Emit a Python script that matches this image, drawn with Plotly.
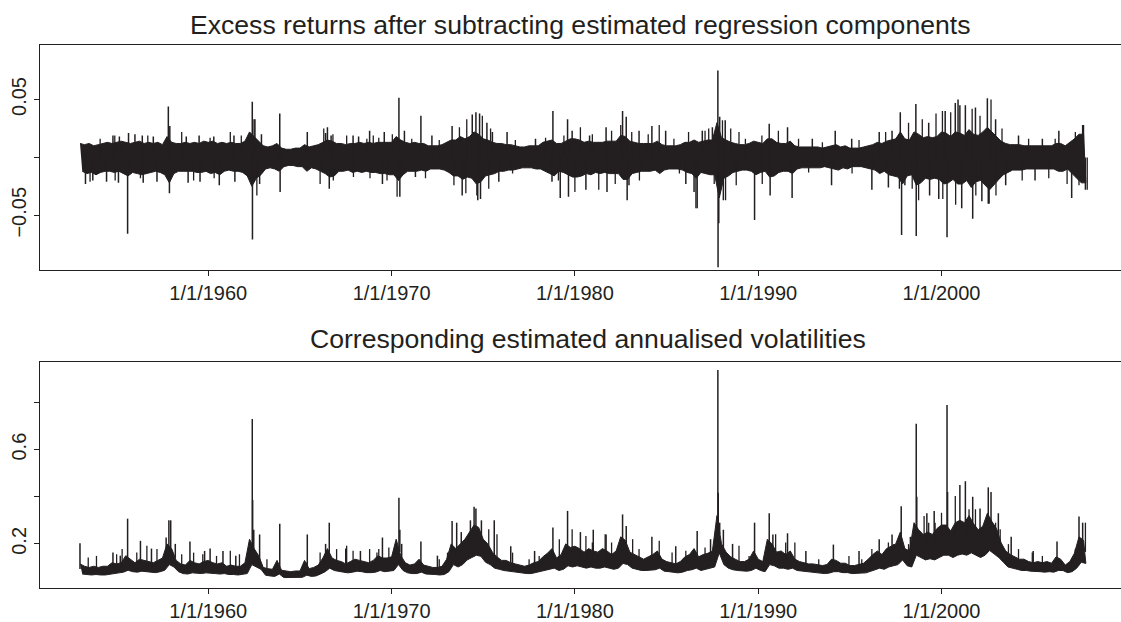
import numpy as np
import pandas as pd
import plotly.graph_objects as go
from plotly.subplots import make_subplots

# ---------------- data ----------------
START_YEAR = 1953.0          # first quarter shown
STEP = 0.25                  # quarterly envelope readings

# Excess returns: quarterly upper / lower extent of the dense band (x 0.001)
ret_hi = [
    12, 11, 12, 10,  11, 12, 13, 12,  13, 14, 13, 12,  13, 14, 12, 13,  12, 13, 11, 18,   # 1953-57
    13, 12, 12, 13,  12, 13, 12, 14,  13, 14, 12, 13,  12, 13, 12, 12,  14, 22, 18, 14,   # 1958-62
    10, 9, 10, 12,   8, 7, 7, 8,      8, 11, 9, 10,    11, 13, 15, 14,  12, 12, 11, 12,   # 1963-67
    12, 13, 12, 13,  12, 13, 13, 13,  13, 18, 15, 13,  12, 13, 12, 12,  10, 10, 10, 11,   # 1968-72
    13, 15, 15, 18,  16, 18, 22, 20,  16, 15, 13, 12,  12, 11, 11, 10,  9, 9, 10, 10,     # 1973-77
    10, 13, 14, 15,  12, 12, 14, 16,  16, 15, 13, 14,  13, 13, 13, 14,  14, 14, 19, 18,   # 1978-82
    14, 13, 12, 12,  12, 12, 14, 11,  10, 10, 10, 11,  13, 13, 15, 13,  14, 15, 15, 30,   # 1983-87
    17, 15, 13, 12,  11, 11, 12, 14,  13, 12, 16, 16,  13, 12, 12, 14,  10, 9, 9, 9,      # 1988-92
    9, 9, 8, 9,      10, 11, 9, 10,   8, 8, 8, 9,      10, 11, 13, 12,  14, 15, 16, 22,   # 1993-97
    16, 15, 22, 20,  17, 18, 17, 18,  22, 21, 18, 22,  21, 19, 24, 20,  19, 22, 26, 22,   # 1998-2002
    18, 14, 12, 11,  11, 11, 10, 10,  10, 10, 10, 10,  10, 12, 12, 10,  13, 16, 20, 20,   # 2003-07
]
ret_lo = [
    -12, -14, -13, -15,  -13, -12, -12, -13,  -12, -14, -16, -13,  -14, -15, -14, -13,  -12, -13, -15, -22,
    -14, -12, -12, -12,  -12, -13, -13, -12,  -14, -13, -15, -12,  -11, -12, -12, -13,  -16, -25, -18, -15,
    -10, -9, -10, -12,   -8, -7, -7, -8,      -8, -12, -9, -10,    -12, -14, -17, -16,  -12, -12, -11, -13,
    -12, -13, -12, -13,  -13, -14, -14, -15,  -15, -20, -15, -12,  -12, -12, -11, -12,  -10, -10, -10, -11,
    -13, -16, -16, -19,  -17, -18, -23, -21,  -16, -15, -14, -12,  -12, -11, -11, -10,  -9, -9, -9, -10,
    -10, -12, -14, -16,  -12, -13, -15, -17,  -17, -16, -14, -15,  -13, -14, -13, -14,  -14, -14, -19, -19,
    -14, -13, -12, -12,  -12, -11, -14, -11,  -10, -10, -10, -11,  -13, -14, -18, -13,  -14, -15, -15, -35,
    -18, -16, -13, -12,  -11, -11, -12, -15,  -13, -12, -17, -16,  -13, -12, -12, -14,  -10, -9, -9, -9,
    -9, -9, -8, -9,      -10, -11, -9, -10,   -8, -8, -8, -9,      -10, -11, -14, -12,  -15, -16, -17, -23,
    -16, -15, -24, -22,  -18, -19, -18, -19,  -23, -22, -19, -23,  -23, -20, -26, -21,  -20, -24, -28, -24,
    -19, -15, -13, -11,  -11, -11, -10, -10,  -10, -10, -10, -10,  -10, -12, -12, -10,  -14, -18, -22, -22,
]
# isolated daily spikes in the returns: (year, value)
ret_spike_t = [
    1953.3, 1953.7, 1954.45, 1954.8, 1955.1, 1955.15, 1955.6, 1955.65, 1956.0, 1956.4,
    1956.45, 1957.0, 1957.2, 1957.82, 1957.88, 1957.9, 1958.8, 1958.9, 1959.5, 1959.55,
    1960.3, 1960.6, 1961.4, 1961.45, 1962.40, 1962.41, 1962.5, 1962.8, 1962.9, 1963.9,
    1963.92, 1965.4, 1966.4, 1966.5, 1966.6, 1966.7, 1967.9, 1968.2, 1968.8, 1969.5,
    1969.6, 1970.4, 1970.45, 1970.7, 1971.3, 1971.6, 1972.2, 1973.3, 1973.85, 1974.4,
    1974.6, 1974.7, 1974.8, 1974.85, 1975.2, 1975.5, 1975.85, 1976.3, 1977.85, 1978.75,
    1978.8, 1979.2, 1979.6, 1979.65, 1979.85, 1980.6, 1980.8, 1981.7, 1981.75, 1982.6,
    1982.8, 1982.85, 1982.95, 1983.5, 1984.2, 1984.95, 1986.05, 1986.5, 1986.67, 1986.95,
    1987.5, 1987.8, 1987.81, 1987.85, 1987.9, 1988.1, 1988.2, 1989.8, 1990.6, 1990.65,
    1991.6, 1991.85, 1992.95, 1994.0, 1994.2, 1995.1, 1996.2, 1996.6, 1997.1, 1997.3,
    1997.75, 1997.82, 1998.0, 1998.6, 1998.62, 1999.3, 1999.35, 1999.85, 2000.2, 2000.3,
    2000.75, 2000.9, 2001.0, 2001.1, 2001.3, 2001.7, 2001.85, 2002.2, 2002.5, 2002.55,
    2002.95, 2003.5, 2004.2, 2005.1, 2005.5, 2006.4, 2007.1, 2007.7, 2007.85,
]
ret_spike_v = [
    -0.023, -0.020, -0.021, 0.019, -0.022, 0.018, -0.066, 0.021, 0.020, 0.019,
    -0.022, 0.018, -0.021, 0.044, -0.031, 0.027, 0.018, -0.022, 0.019, -0.021,
    0.018, -0.024, 0.019, -0.021, 0.048, -0.071, 0.033, -0.023, 0.020, 0.038,
    -0.030, 0.022, 0.021, 0.026, -0.027, 0.019, 0.019, 0.018, 0.023, -0.023,
    0.022, 0.0515, -0.034, 0.023, -0.017, 0.036, 0.019, 0.027, -0.033, 0.037,
    0.039, -0.037, 0.038, -0.036, 0.030, 0.022, -0.021, 0.022, 0.016, -0.021,
    0.040, -0.035, 0.033, -0.034, 0.023, -0.028, 0.019, 0.026, -0.030, 0.040,
    0.035, -0.037, -0.024, 0.023, 0.027, 0.023, -0.023, -0.030, -0.044, 0.023,
    0.026, 0.075, -0.095, -0.057, 0.035, -0.037, 0.032, -0.054, 0.029, -0.033,
    0.026, -0.035, 0.016, -0.024, 0.023, 0.016, -0.028, 0.022, -0.026, 0.023,
    0.039, -0.067, -0.024, 0.046, -0.068, 0.030, -0.033, -0.036, 0.040, -0.069,
    0.047, 0.050, 0.045, -0.044, 0.045, -0.053, 0.043, -0.038, 0.051, -0.040,
    0.033, -0.024, 0.019, -0.020, 0.016, 0.023, -0.035, 0.028, -0.028,
]
# smaller daily excursions along the fringe of the band: (year, value)
ret_fringe_t = [
    1953.55, 1954.1, 1954.9, 1954.92, 1956.3, 1956.7, 1958.55, 1959.2, 1960.1, 1960.32,
    1961.2, 1961.8, 1962.55, 1962.65, 1966.1, 1966.3, 1966.8, 1966.82, 1967.55, 1967.92,
    1968.65, 1968.82, 1969.0, 1969.3, 1969.75, 1970.04, 1970.3, 1971.1, 1971.85, 1972.6,
    1973.4, 1973.7, 1974.05, 1974.1, 1974.65, 1974.95, 1975.3, 1975.4, 1976.6, 1976.75,
    1978.4, 1979.1, 1979.4, 1980.0, 1980.3, 1980.95, 1981.3, 1982.0, 1982.2, 1982.5,
    1983.1, 1983.52, 1984.0, 1984.6, 1985.4, 1985.7, 1986.2, 1986.6, 1987.1, 1987.3,
    1987.6, 1988.05, 1988.22, 1988.5, 1988.8, 1988.95, 1989.3, 1990.2, 1990.22, 1991.1,
    1992.2, 1992.75, 1993.5, 1995.12, 1995.5, 1996.95, 1997.7, 1998.2, 1998.4, 1998.75,
    1998.95, 1999.7, 2000.05, 2000.07, 2000.5, 2000.77, 2001.67, 2001.87, 2002.1, 2002.6,
    2002.7, 2002.97, 2003.3, 2004.4, 2004.75, 2005.85, 2006.2, 2006.85, 2007.3, 2007.5,
    2007.75, 2007.95,
]
ret_fringe_v = [
    -0.021, 0.016, 0.019, -0.020, -0.018, 0.019, 0.022, -0.020, 0.017, -0.018,
    0.022, 0.019, 0.033, -0.033, -0.023, 0.025, 0.020, -0.020, 0.019, -0.017,
    0.016, -0.018, 0.019, 0.017, -0.020, 0.020, -0.034, 0.016, -0.018, 0.015,
    -0.024, 0.026, -0.031, 0.033, -0.033, 0.036, -0.027, 0.025, -0.014, 0.015,
    0.017, -0.020, 0.019, -0.030, 0.026, 0.020, -0.028, 0.023, -0.023, 0.028,
    0.022, -0.020, 0.020, 0.028, 0.016, -0.014, 0.022, -0.044, 0.023, 0.025,
    -0.023, 0.032, -0.037, 0.025, -0.024, 0.022, 0.016, 0.019, -0.023, 0.023,
    0.016, -0.013, 0.013, -0.014, 0.015, 0.022, -0.027, 0.030, -0.027, -0.037,
    0.033, 0.038, 0.040, -0.036, 0.039, -0.041, 0.042, -0.033, 0.036, -0.040,
    0.050, -0.033, 0.025, -0.020, 0.016, -0.018, 0.016, -0.023, 0.022, -0.024,
    0.028, -0.028,
]

# Volatilities: quarterly upper / lower extent of the dense noisy line (x 0.001)
vol_hi = [
    115, 105, 100, 105,  100, 105, 105, 120,  115, 120, 150, 135,  120, 135, 130, 125,  120, 130, 140, 200,
    180, 130, 115, 110,  130, 120, 115, 125,  130, 120, 115, 120,  105, 110, 105, 105,  120, 220, 180, 150,
    100, 95, 92, 130,    88, 85, 82, 85,      85, 130, 95, 100,    110, 140, 180, 140,  130, 125, 115, 125,
    135, 130, 125, 120,  130, 150, 140, 140,  145, 220, 150, 120,  110, 115, 135, 110,  105, 100, 100, 105,
    135, 200, 180, 200,  220, 250, 280, 270,  220, 200, 165, 145,  130, 130, 120, 115,  110, 105, 110, 120,
    125, 145, 160, 180,  140, 155, 200, 185,  190, 180, 165, 180,  170, 165, 180, 170,  155, 170, 230, 215,
    165, 155, 145, 135,  145, 155, 170, 135,  125, 120, 115, 125,  145, 155, 180, 145,  155, 160, 170, 320,
    200, 165, 145, 135,  125, 125, 135, 170,  135, 125, 220, 200,  165, 170, 155, 170,  135, 125, 120, 115,
    115, 112, 108, 112,  135, 130, 118, 118,  108, 108, 112, 118,  135, 155, 170, 155,  180, 190, 200, 250,
    180, 170, 290, 260,  240, 250, 240, 265,  280, 280, 255, 290,  300, 290, 320, 285,  260, 275, 330, 295,
    265, 205, 170, 155,  145, 135, 135, 125,  120, 125, 120, 125,  118, 145, 135, 110,  125, 160, 230, 215,
]
vol_lo = [
    72, 70, 68, 70,    68, 68, 70, 74,    77, 80, 88, 82,    80, 84, 82, 80,    78, 82, 88, 112,
    102, 82, 74, 72,   77, 74, 74, 77,    77, 74, 72, 74,    70, 70, 68, 70,    74, 112, 102, 92,
    67, 64, 62, 72,    57, 57, 56, 57,    58, 67, 62, 64,    72, 82, 97, 87,    82, 80, 77, 80,
    84, 82, 78, 78,    80, 87, 82, 84,    87, 112, 87, 77,   74, 74, 80, 72,    70, 70, 68, 70,
    82, 112, 102, 112, 132, 142, 152, 147, 122, 112, 97, 92,  87, 82, 80, 78,    76, 74, 74, 77,
    82, 87, 92, 97,    87, 92, 107, 102,  107, 102, 97, 102,  97, 97, 102, 97,   92, 97, 117, 112,
    97, 92, 87, 87,    87, 90, 97, 84,    82, 78, 77, 80,    87, 90, 97, 87,    92, 97, 102, 162,
    112, 97, 90, 87,   84, 84, 87, 97,    87, 82, 112, 107,  97, 97, 92, 97,    87, 82, 80, 78,
    78, 76, 74, 76,    82, 82, 78, 78,    74, 74, 76, 77,    84, 90, 97, 92,    102, 107, 112, 132,
    107, 102, 152, 142, 132, 137, 132, 142, 152, 152, 142, 152, 157, 152, 162, 152, 142, 152, 172, 157,
    142, 122, 102, 97, 92, 87, 87, 84,    82, 82, 80, 82,    80, 87, 87, 78,    82, 97, 122, 117,
]
# isolated volatility spikes: (year, value)
vol_spike_t = [1953.0, 1954.8, 1955.2, 1955.6, 1956.3, 1956.9, 1957.7, 1957.85, 1957.95, 1958.2,
               1959.0, 1959.8, 1960.1, 1960.8, 1961.5, 1962.4, 1962.42, 1962.48, 1962.8, 1963.9,
               1965.4, 1966.4, 1966.6, 1967.5, 1968.3, 1969.5, 1970.4, 1970.45, 1970.55, 1971.6,
               1972.5, 1973.3, 1973.55, 1973.8, 1974.3, 1974.5, 1974.6, 1974.9, 1975.6, 1976.5,
               1977.8, 1978.8, 1979.6, 1980.3, 1981.0, 1981.7, 1982.6, 1982.8, 1984.2, 1985.5,
               1986.67, 1987.4, 1987.8, 1987.82, 1987.9, 1988.1, 1988.6, 1989.8, 1990.6, 1990.8,
               1991.6, 1992.6, 1994.1, 1995.5, 1996.6, 1997.3, 1997.8, 1998.3, 1998.62, 1998.65,
               1999.2, 1999.6, 2000.3, 2000.33, 2001.0, 2001.3, 2001.7, 2002.1, 2002.55, 2002.7,
               2003.1, 2003.8, 2005.0, 2006.3, 2007.5, 2007.7]
vol_spike_v = [0.203, 0.163, 0.150, 0.307, 0.213, 0.180, 0.227, 0.300, 0.300, 0.200,
               0.210, 0.170, 0.180, 0.170, 0.150, 0.730, 0.386, 0.260, 0.240, 0.286,
               0.240, 0.200, 0.290, 0.180, 0.170, 0.227, 0.396, 0.260, 0.200, 0.210,
               0.150, 0.297, 0.290, 0.250, 0.300, 0.358, 0.350, 0.300, 0.300, 0.190,
               0.170, 0.270, 0.340, 0.250, 0.260, 0.240, 0.325, 0.276, 0.230, 0.190,
               0.255, 0.220, 0.938, 0.417, 0.290, 0.260, 0.200, 0.290, 0.330, 0.240,
               0.245, 0.170, 0.197, 0.170, 0.220, 0.240, 0.360, 0.230, 0.710, 0.400,
               0.330, 0.340, 0.790, 0.420, 0.450, 0.466, 0.400, 0.350, 0.440, 0.420,
               0.330, 0.230, 0.170, 0.210, 0.316, 0.290]
# smaller bumps riding on the volatility line: (year, value)
vol_fringe_t = [
    1953.45, 1953.9, 1955.0, 1955.3, 1956.1, 1956.65, 1957.2, 1958.55, 1959.2, 1959.7,
    1960.45, 1961.2, 1961.7, 1962.2, 1963.2, 1965.35, 1966.1, 1967.0, 1967.55, 1967.9,
    1968.8, 1969.2, 1969.3, 1969.85, 1972.6, 1973.05, 1975.3, 1975.75, 1976.6, 1977.5,
    1978.05, 1979.15, 1979.85, 1980.6, 1980.95, 1981.65, 1982.0, 1983.15, 1983.5, 1984.6,
    1985.3, 1986.05, 1987.1, 1987.5, 1988.95, 1989.5, 1990.95, 1991.5, 1992.0, 1993.3,
    1994.95, 1995.65, 1996.2, 1997.1, 1997.4, 1998.2, 1999.05, 1999.3, 1999.65, 2000.0,
    2000.75, 2001.5, 2001.85, 2002.2, 2002.95, 2003.2, 2003.65, 2004.2, 2004.95, 2005.5,
    2007.3, 2007.85,
]
vol_fringe_v = [
    0.142, 0.149, 0.156, 0.178, 0.163, 0.192, 0.178, 0.156, 0.163, 0.156,
    0.149, 0.171, 0.156, 0.135, 0.135, 0.121, 0.163, 0.178, 0.192, 0.171,
    0.178, 0.163, 0.178, 0.185, 0.135, 0.163, 0.262, 0.241, 0.163, 0.135,
    0.149, 0.220, 0.262, 0.234, 0.206, 0.241, 0.206, 0.220, 0.178, 0.213,
    0.163, 0.171, 0.185, 0.163, 0.192, 0.149, 0.241, 0.206, 0.206, 0.135,
    0.149, 0.135, 0.178, 0.206, 0.199, 0.199, 0.318, 0.290, 0.290, 0.332,
    0.403, 0.347, 0.347, 0.262, 0.290, 0.262, 0.199, 0.178, 0.163, 0.149,
    0.178, 0.290,
]

x_tick_years = [1960, 1970, 1980, 1990, 2000]
x_tick_text = ["1/1/1960", "1/1/1970", "1/1/1980", "1/1/1990", "1/1/2000"]
ret_tick_vals = [-0.05, 0.0, 0.05]
ret_tick_text = ["\u22120.05", "", "0.05"]
vol_tick_vals = [0.2, 0.4, 0.6, 0.8]
vol_tick_text = ["0.2", "", "0.6", ""]

title_top = "Excess returns after subtracting estimated regression components"
title_bot = "Corresponding estimated annualised volatilities"


# ---------------- helpers ----------------
def yr2date(y):
    year = int(np.floor(y))
    a = pd.Timestamp(year=year, month=1, day=1)
    b = pd.Timestamp(year=year + 1, month=1, day=1)
    return a + (b - a) * (y - year)


def band_polygon(hi, lo, scale):
    """Closed outline of the dense band: upper readings left->right, lower back."""
    t_hi = [START_YEAR + i * STEP for i in range(len(hi))]
    t_lo = [START_YEAR + i * STEP + STEP / 2 for i in range(len(lo))]
    xs = [yr2date(t) for t in t_hi] + [yr2date(t) for t in reversed(t_lo)]
    ys = [v * scale for v in hi] + [v * scale for v in reversed(lo)]
    return xs, ys


def spike_segments(spike_t, spike_v, base):
    xs, ys = [], []
    for t, v in zip(spike_t, spike_v):
        d = yr2date(t)
        xs += [d, d, None]
        ys += [base(t), v, None]
    return xs, ys


def vol_base(t):
    i = min(max(int((t - START_YEAR) / STEP), 0), len(vol_lo) - 1)
    return (vol_lo[i] + vol_hi[i]) / 2 * 0.001


INK = "#231f20"
FONT = "Liberation Sans, Arial, Helvetica, sans-serif"

fig = make_subplots(rows=2, cols=1)

# --- top panel ---
bx, by = band_polygon(ret_hi, ret_lo, 0.001)
fig.add_trace(go.Scatter(x=bx, y=by, mode="lines", fill="toself", fillcolor=INK,
                         line=dict(color=INK, width=1), hoverinfo="skip", showlegend=False),
              row=1, col=1)
sx, sy = spike_segments(ret_fringe_t, ret_fringe_v, lambda t: 0.0)
fig.add_trace(go.Scatter(x=sx, y=sy, mode="lines", line=dict(color=INK, width=1.3),
                         hoverinfo="skip", showlegend=False), row=1, col=1)
sx, sy = spike_segments(ret_spike_t, ret_spike_v, lambda t: 0.0)
fig.add_trace(go.Scatter(x=sx, y=sy, mode="lines", line=dict(color=INK, width=1.5),
                         hoverinfo="skip", showlegend=False), row=1, col=1)

# --- bottom panel ---
bx, by = band_polygon(vol_hi, vol_lo, 0.001)
fig.add_trace(go.Scatter(x=bx, y=by, mode="lines", fill="toself", fillcolor=INK,
                         line=dict(color=INK, width=1), hoverinfo="skip", showlegend=False),
              row=2, col=1)
sx, sy = spike_segments(vol_fringe_t, vol_fringe_v, vol_base)
fig.add_trace(go.Scatter(x=sx, y=sy, mode="lines", line=dict(color=INK, width=1.3),
                         hoverinfo="skip", showlegend=False), row=2, col=1)
sx, sy = spike_segments(vol_spike_t, vol_spike_v, vol_base)
fig.add_trace(go.Scatter(x=sx, y=sy, mode="lines", line=dict(color=INK, width=1.5),
                         hoverinfo="skip", showlegend=False), row=2, col=1)

x_range = [yr2date(1950.82), yr2date(2009.79)]
x_common = dict(
    type="date", range=x_range, tickmode="array",
    tickvals=[yr2date(y) for y in x_tick_years], ticktext=x_tick_text,
    ticks="outside", ticklen=5, tickcolor=INK, tickwidth=1,
    showline=True, mirror=True, linecolor=INK, linewidth=1,
    showgrid=False, zeroline=False,
    tickfont=dict(family=FONT, size=20, color=INK),
)
y_common = dict(
    ticks="outside", ticklen=5, tickcolor=INK, tickwidth=1, tickmode="array",
    showline=True, mirror=False, linecolor=INK, linewidth=1,
    showgrid=False, zeroline=False, tickangle=-90,
    tickfont=dict(family=FONT, size=20, color=INK),
)

fig.update_layout(
    width=1121, height=622,
    margin=dict(l=40, r=0, t=0, b=0),
    paper_bgcolor="white", plot_bgcolor="white",
    xaxis=dict(domain=[0, 1], anchor="y", **x_common),
    yaxis=dict(domain=[0.5616, 0.9277], anchor="x", range=[-0.0977, 0.0974],
               tickvals=ret_tick_vals, ticktext=ret_tick_text, **y_common),
    xaxis2=dict(domain=[0, 1], anchor="y2", **x_common),
    yaxis2=dict(domain=[0.0471, 0.4132], anchor="x2", range=[0.013, 0.9718],
                tickvals=vol_tick_vals, ticktext=vol_tick_text, **y_common),
    annotations=[
        dict(text=title_top, xref="paper", yref="paper", x=0.4991, y=0.960,
             xanchor="center", yanchor="middle", showarrow=False,
             font=dict(family=FONT, size=26.6, color=INK)),
        dict(text=title_bot, xref="paper", yref="paper", x=0.5065, y=0.451,
             xanchor="center", yanchor="middle", showarrow=False,
             font=dict(family=FONT, size=26.6, color=INK)),
    ],
)

fig.write_html(
    "out.html",
    config={"displayModeBar": False},
    post_script="document.body.style.margin='0';document.body.style.overflow='hidden';",
)
